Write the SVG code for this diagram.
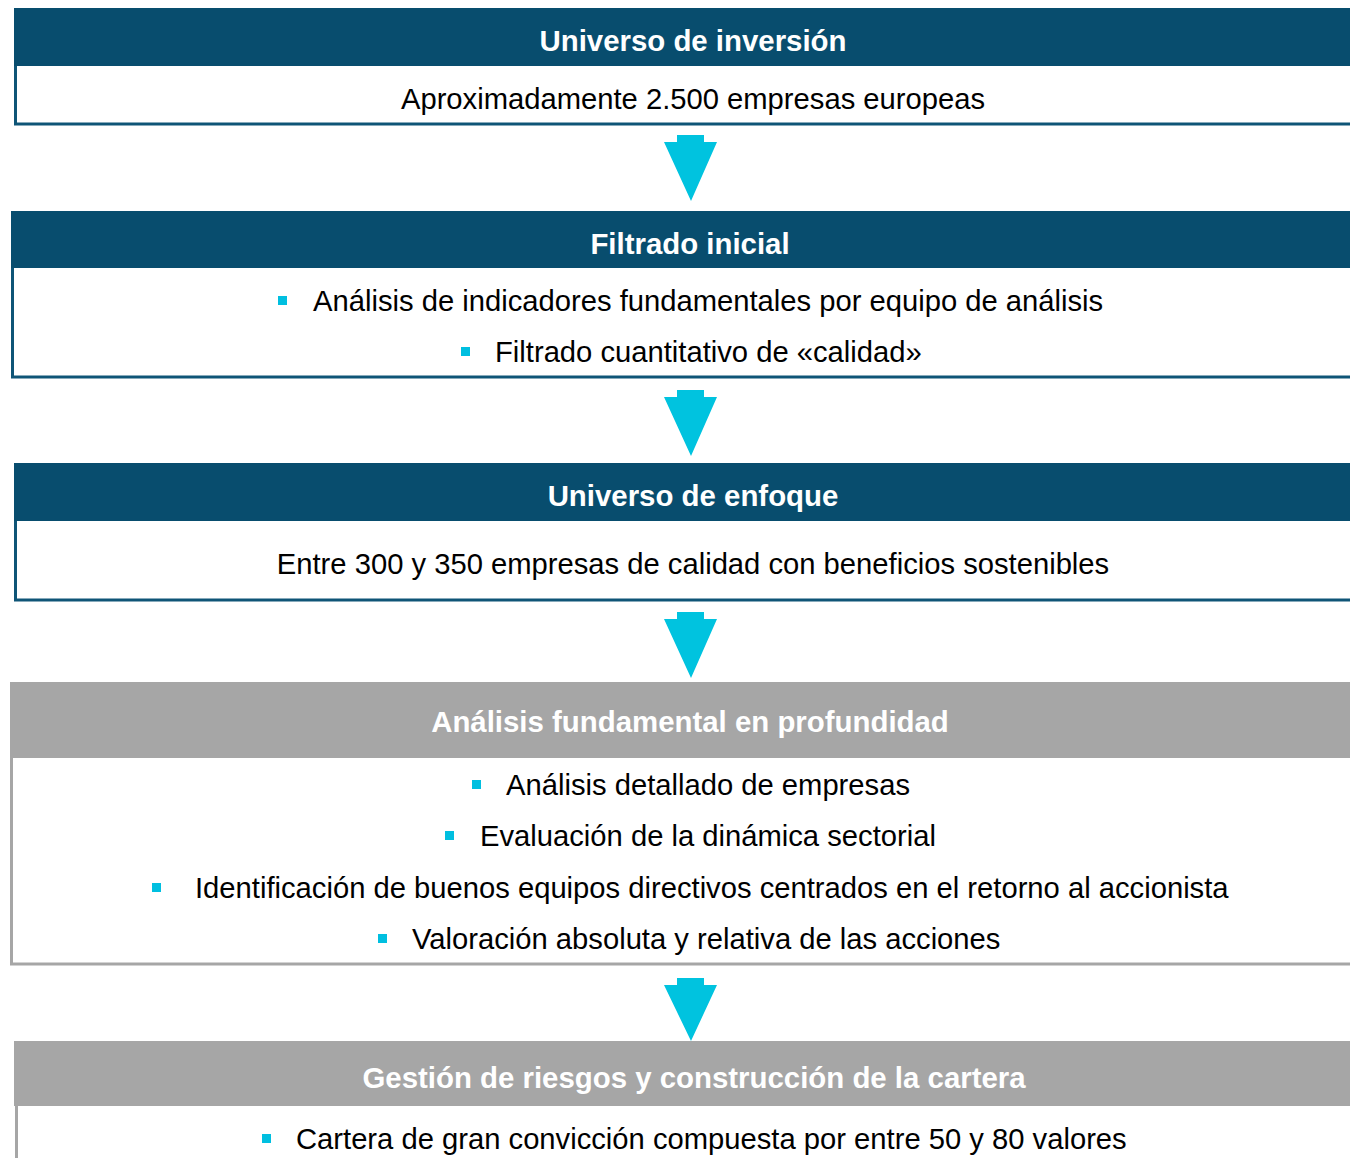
<svg xmlns="http://www.w3.org/2000/svg" width="1350" height="1158" viewBox="0 0 1350 1158">
<defs>
<style>
.hb{fill:#084d6e}
.hg{fill:#a6a6a6}
.bb{fill:#fff;stroke:#0f5577;stroke-width:3}
.bg{fill:#fff;stroke:#a6a6a6;stroke-width:3}
.t{font-family:"Liberation Sans",Arial,sans-serif;font-weight:bold;font-size:29.4px;fill:#fff;text-anchor:middle}
.b{font-family:"Liberation Sans",Arial,sans-serif;font-size:29.2px;fill:#000}
.c{text-anchor:middle}
.sq{fill:#00bfe0}
.ar{fill:#00c3df}
</style>
</defs>
<rect width="1350" height="1158" fill="#fff"/>
<g id="connectors">
<path class="ar" d="M677,135 H704 V142 H717 L691,201 L664,142 H677 Z"/>
<path class="ar" d="M677,390 H704 V397 H717 L691,456 L664,397 H677 Z"/>
<path class="ar" d="M677,612 H704 V619 H717 L691,678 L664,619 H677 Z"/>
<path class="ar" d="M677,978 H704 V985 H717 L691,1041 L664,985 H677 Z"/>
</g>
<g id="n1">
<rect class="bb" x="15.5" y="60" width="1340" height="64"/>
<rect class="hb" x="14" y="8" width="1340" height="58"/>
<text class="t" x="693" y="51">Universo de inversión</text>
<text class="b c" x="693" y="109">Aproximadamente 2.500 empresas europeas</text>
</g>
<g id="n2">
<rect class="bb" x="12.5" y="262" width="1343" height="115"/>
<rect class="hb" x="11" y="211" width="1343" height="57"/>
<text class="t" x="690" y="254">Filtrado inicial</text>
<rect class="sq" x="278" y="296" width="9" height="9"/>
<text class="b" x="313" y="311">Análisis de indicadores fundamentales por equipo de análisis</text>
<rect class="sq" x="461" y="347" width="9" height="9"/>
<text class="b" x="495" y="362">Filtrado cuantitativo de «calidad»</text>
</g>
<g id="n3">
<rect class="bb" x="15.5" y="515" width="1340" height="85"/>
<rect class="hb" x="14" y="463" width="1340" height="58"/>
<text class="t" x="693" y="506">Universo de enfoque</text>
<text class="b c" x="693" y="574">Entre 300 y 350 empresas de calidad con beneficios sostenibles</text>
</g>
<g id="n4">
<rect class="bg" x="11.5" y="752" width="1344" height="212"/>
<rect class="hg" x="10" y="682" width="1344" height="76"/>
<text class="t" x="690" y="732">Análisis fundamental en profundidad</text>
<rect class="sq" x="472" y="780" width="9" height="9"/>
<text class="b" x="506" y="795">Análisis detallado de empresas</text>
<rect class="sq" x="445" y="831" width="9" height="9"/>
<text class="b" x="480" y="846">Evaluación de la dinámica sectorial</text>
<rect class="sq" x="152" y="883" width="9" height="9"/>
<text class="b" x="195" y="898">Identificación de buenos equipos directivos centrados en el retorno al accionista</text>
<rect class="sq" x="378" y="934" width="9" height="9"/>
<text class="b" x="412" y="949">Valoración absoluta y relativa de las acciones</text>
</g>
<g id="n5">
<rect class="bg" x="16.5" y="1100" width="1340" height="80"/>
<rect class="hg" x="14" y="1041" width="1340" height="65"/>
<text class="t" x="694" y="1088">Gestión de riesgos y construcción de la cartera</text>
<rect class="sq" x="262" y="1134" width="9" height="9"/>
<text class="b" x="296" y="1149">Cartera de gran convicción compuesta por entre 50 y 80 valores</text>
</g>
</svg>
